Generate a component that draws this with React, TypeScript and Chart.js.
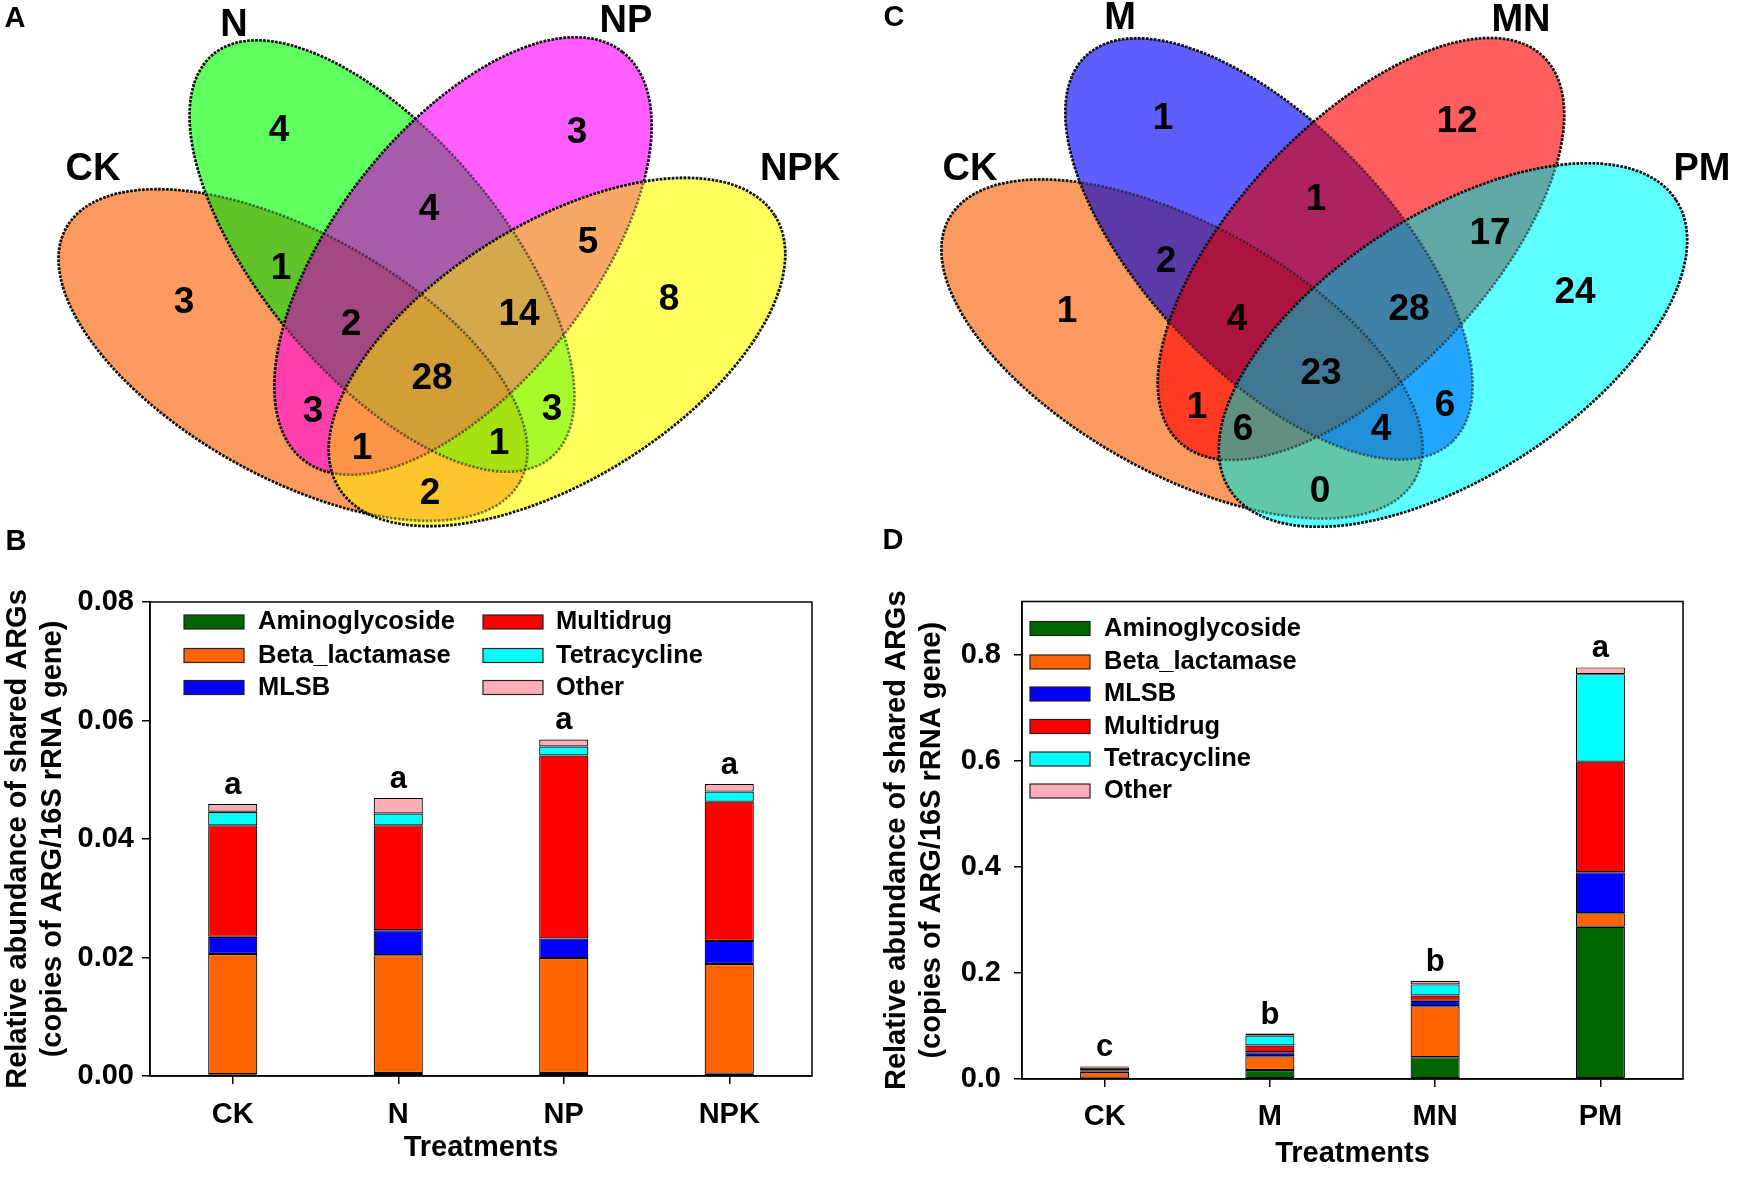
import React, { useEffect, useRef } from 'react';
import { Chart, registerables } from 'chart.js';

Chart.register(...registerables);

const FONT = '"Liberation Sans", Arial, Helvetica, sans-serif';

// ---------------- Venn data ----------------
// region structure: indices of the sets that share the region
const vennRegionSets: number[][] = [
  [0], [1], [2], [3],
  [0, 1], [1, 2], [2, 3], [0, 3], [0, 2], [1, 3],
  [0, 1, 2], [1, 2, 3], [0, 1, 3], [0, 2, 3],
  [0, 1, 2, 3],
];
const vennASets = ['CK', 'N', 'NP', 'NPK'];
const vennACounts = [3, 4, 3, 8, 1, 4, 5, 2, 3, 3, 2, 14, 1, 1, 28];
const vennCSets = ['CK', 'M', 'MN', 'PM'];
const vennCCounts = [1, 1, 12, 24, 2, 1, 17, 0, 1, 6, 4, 28, 4, 6, 23];

// ---------------- Bar data ----------------
const argClasses = ['Aminoglycoside', 'Beta_lactamase', 'MLSB', 'Multidrug', 'Tetracycline', 'Other'];

const categoriesB = ['CK', 'N', 'NP', 'NPK'];
const aminoB = [0.0003, 0.0005, 0.0005, 0.0004];
const betaB = [0.0203, 0.0199, 0.0194, 0.0185];
const mlsbB = [0.0029, 0.0042, 0.0033, 0.0039];
const multiB = [0.0188, 0.0177, 0.0309, 0.0235];
const tetraB = [0.0023, 0.0020, 0.0015, 0.0017];
const otherB = [0.0013, 0.0026, 0.0012, 0.0013];
const lettersB = ['a', 'a', 'a', 'a'];
const yTicksB = [0, 0.02, 0.04, 0.06, 0.08];

const categoriesD = ['CK', 'M', 'MN', 'PM'];
const aminoD = [0.001, 0.017, 0.041, 0.287];
const betaD = [0.0125, 0.026, 0.096, 0.0255];
const mlsbD = [0.003, 0.0075, 0.0105, 0.0772];
const multiD = [0.005, 0.0127, 0.0098, 0.2084];
const tetraD = [0.0015, 0.0188, 0.021, 0.165];
const otherD = [0.0012, 0.0037, 0.0067, 0.0127];
const lettersD = ['c', 'b', 'b', 'a'];
const yTicksD = [0, 0.2, 0.4, 0.6, 0.8];

const yTitleLines = ['Relative abundance of shared ARGs', '(copies of ARG/16S rRNA gene)'];
const xTitle = 'Treatments';

// ---------------- styles / layout ----------------
const classColors = ['#006400', '#FF6400', '#0000FF', '#FF0000', '#00FFFF', '#FFADB9'];

const VENN_W = 1744;
const VENN_H = 560;

const VENN_A = {
  panel: 'A',
  panelPos: [15, 19],
  setColors: ['#FA9A5E', '#5EFF5E', '#FF5EFF', '#FFFF5E'],
  regionColors: [
    '#FA9A5E', '#5EFF5E', '#FF5EFF', '#FFFF5E',
    '#5EC42A', '#A65CA8', '#F9A864', '#FDC62C', '#FF40AC', '#A8FA2C',
    '#A44882', '#D4A84C', '#A6E212', '#FC9448',
    '#D29E36',
  ],
  ellipses: [
    { cx: 293, cy: 355, rx: 260, ry: 122, rot: 29.3 },
    { cx: 382, cy: 256, rx: 263, ry: 120, rot: 50 },
    { cx: 463, cy: 256, rx: 259, ry: 128, rot: -52 },
    { cx: 557, cy: 352, rx: 257, ry: 128, rot: -32 },
  ],
  setLabelPos: [[93, 170], [234, 26], [626, 22], [800, 170]],
  regionPos: [
    [184, 303], [279, 131], [577, 133], [669, 300],
    [281, 269], [429, 210], [588, 243], [430, 494], [313, 412], [552, 410],
    [351, 325], [519, 315], [499, 444], [362, 449],
    [432, 379],
  ],
};

const VENN_C = {
  panel: 'C',
  panelPos: [894, 18],
  setColors: ['#FA9A5E', '#5E5EFF', '#FF5E5E', '#5EFFFF'],
  regionColors: [
    '#FA9A5E', '#5E5EFF', '#FF5E5E', '#5EFFFF',
    '#5B3AA8', '#AE2260', '#60A8A8', '#60C8A8', '#FF3C22', '#22A6FF',
    '#AC1440', '#3E82A8', '#2290D8', '#609080',
    '#407894',
  ],
  ellipses: [
    { cx: 1182, cy: 349, rx: 267, ry: 124, rot: 29.3 },
    { cx: 1269, cy: 249, rx: 266, ry: 123, rot: 46.5 },
    { cx: 1361, cy: 249, rx: 265, ry: 125, rot: -46.7 },
    { cx: 1453, cy: 345, rx: 266, ry: 131, rot: -33 },
  ],
  setLabelPos: [[970, 170], [1120, 19], [1521, 21], [1702, 170]],
  regionPos: [
    [1067, 312], [1163, 119], [1457, 122], [1575, 293],
    [1166, 262], [1316, 200], [1490, 234], [1320, 492], [1197, 408], [1445, 406],
    [1237, 320], [1409, 310], [1381, 430], [1243, 430],
    [1321, 374],
  ],
};

const EXTRA_PANEL_LETTERS: [string, number, number][] = [['B', 16, 542], ['D', 893, 541]];

// ---------------- Venn chart ----------------
function makeVennPlugin(panels: any[], sets: string[][], counts: number[][]) {
  return {
    id: 'vennDraw',
    beforeDatasetsDraw(chart: any) {
      const { ctx, scales } = chart;
      const W = chart.width;
      const H = chart.height;
      const sx = (v: number) => scales.x.getPixelForValue(v);
      const sy = (v: number) => scales.y.getPixelForValue(v);
      const kx = sx(1) - sx(0);
      const ky = Math.abs(sy(1) - sy(0));
      panels.forEach((p) => {
        const inside = p.ellipses.map((e: any) => {
          const path = new Path2D();
          path.ellipse(sx(e.cx), sy(e.cy), e.rx * kx, e.ry * ky, (e.rot * Math.PI) / 180, 0, Math.PI * 2);
          return path;
        });
        const outside = p.ellipses.map((e: any) => {
          const path = new Path2D();
          path.rect(-5, -5, W + 10, H + 10);
          path.ellipse(sx(e.cx), sy(e.cy), e.rx * kx, e.ry * ky, (e.rot * Math.PI) / 180, 0, Math.PI * 2);
          return path;
        });
        // base fills (avoid seams)
        ctx.save();
        inside.forEach((path: Path2D, i: number) => {
          ctx.fillStyle = p.setColors[i];
          ctx.fill(path);
        });
        ctx.restore();
        // each region painted on its own
        vennRegionSets.forEach((S, r) => {
          ctx.save();
          for (let i = 0; i < inside.length; i++) {
            if (S.includes(i)) ctx.clip(inside[i]);
            else ctx.clip(outside[i], 'evenodd');
          }
          ctx.fillStyle = p.regionColors[r];
          ctx.fillRect(-5, -5, W + 10, H + 10);
          ctx.restore();
        });
        // dotted outlines: softer where covered by later sets
        inside.forEach((path: Path2D, i: number) => {
          ctx.save();
          ctx.setLineDash([2.5, 1.5]);
          ctx.lineWidth = 2.6;
          ctx.strokeStyle = 'rgba(20,20,20,0.55)';
          ctx.stroke(path);
          ctx.restore();
          ctx.save();
          for (let j = i + 1; j < inside.length; j++) ctx.clip(outside[j], 'evenodd');
          ctx.setLineDash([2.5, 1.5]);
          ctx.lineWidth = 2.6;
          ctx.strokeStyle = '#111';
          ctx.stroke(path);
          ctx.restore();
        });
      });
    },
    afterDatasetsDraw(chart: any) {
      const { ctx, scales } = chart;
      const sx = (v: number) => scales.x.getPixelForValue(v);
      const sy = (v: number) => scales.y.getPixelForValue(v);
      ctx.save();
      ctx.fillStyle = '#000';
      ctx.textAlign = 'center';
      ctx.textBaseline = 'middle';
      panels.forEach((p, pi) => {
        const meta = chart.getDatasetMeta(pi);
        ctx.font = `bold 37px ${FONT}`;
        meta.data.forEach((pt: any, j: number) => {
          ctx.fillText(String(counts[pi][j]), pt.x, pt.y);
        });
        ctx.font = `bold 38px ${FONT}`;
        p.setLabelPos.forEach((pos: number[], k: number) => {
          ctx.fillText(sets[pi][k], sx(pos[0]), sy(pos[1]));
        });
        ctx.font = `bold 29px ${FONT}`;
        ctx.fillText(p.panel, sx(p.panelPos[0]), sy(p.panelPos[1]));
      });
      ctx.font = `bold 29px ${FONT}`;
      EXTRA_PANEL_LETTERS.forEach(([t, x, y]) => ctx.fillText(t, sx(x), sy(y)));
      ctx.restore();
    },
  };
}

function vennConfig(): any {
  const panels = [VENN_A, VENN_C];
  const counts = [vennACounts, vennCCounts];
  const sets = [vennASets, vennCSets];
  return {
    type: 'scatter',
    data: {
      datasets: panels.map((p, i) => ({
        label: p.panel,
        data: p.regionPos.map((pos, j) => ({ x: pos[0], y: pos[1], n: counts[i][j] })),
        pointRadius: 0,
        pointHoverRadius: 0,
        showLine: false,
      })),
    },
    options: {
      responsive: false,
      animation: false,
      events: [],
      layout: { padding: 0 },
      plugins: { legend: { display: false }, tooltip: { enabled: false } },
      scales: {
        x: { type: 'linear', min: 0, max: VENN_W, display: false },
        y: { type: 'linear', min: 0, max: VENN_H, reverse: true, display: false },
      },
    },
    plugins: [makeVennPlugin(panels, sets, counts)],
  };
}

// ---------------- Bar charts ----------------
function makeBarExtras(p: any) {
  return {
    id: 'barExtras',
    afterDraw(chart: any) {
      const { ctx, chartArea: ca, scales } = chart;
      ctx.save();
      ctx.strokeStyle = '#000';
      ctx.lineWidth = 1.5;
      ctx.strokeRect(ca.left, ca.top, ca.right - ca.left, ca.bottom - ca.top);
      ctx.fillStyle = '#000';
      ctx.font = `bold 31px ${FONT}`;
      ctx.textAlign = 'center';
      ctx.textBaseline = 'alphabetic';
      const n = chart.data.labels.length;
      for (let i = 0; i < n; i++) {
        let total = 0;
        chart.data.datasets.forEach((d: any) => { total += d.data[i]; });
        ctx.fillText(p.letters[i], scales.x.getPixelForValue(i), scales.y.getPixelForValue(total) - 10);
      }
      const L = p.legend;
      ctx.font = `bold ${L.fontSize}px ${FONT}`;
      ctx.textAlign = 'left';
      ctx.textBaseline = 'middle';
      chart.data.datasets.forEach((d: any, k: number) => {
        const col = Math.floor(k / L.rows);
        const row = k % L.rows;
        const bx = L.boxX[col];
        const tx = L.textX[col];
        const y = L.rowY[row];
        ctx.fillStyle = d.backgroundColor;
        ctx.fillRect(bx, y - L.boxH / 2, L.boxW, L.boxH);
        ctx.strokeStyle = '#222';
        ctx.lineWidth = 1.2;
        ctx.strokeRect(bx, y - L.boxH / 2, L.boxW, L.boxH);
        ctx.fillStyle = '#000';
        ctx.fillText(d.label, tx, y);
      });
      ctx.restore();
    },
  };
}

function barConfig(p: any): any {
  const datasets = argClasses.map((label, k) => ({
    label,
    data: p.series[k],
    backgroundColor: classColors[k],
    borderColor: '#000',
    borderWidth: 1.2,
    borderSkipped: false,
    barPercentage: 0.297,
    categoryPercentage: 1,
  }));
  const tickFont = { family: FONT, size: 29, weight: 'bold' };
  const titleFont = { family: FONT, size: 29, weight: 'bold', lineHeight: '35px' };
  const gridOpts = {
    display: true,
    drawOnChartArea: false,
    drawTicks: true,
    tickLength: 8,
    offset: false,
    color: '#000',
    lineWidth: 1.5,
  };
  return {
    type: 'bar',
    data: { labels: p.categories, datasets },
    options: {
      responsive: false,
      maintainAspectRatio: false,
      animation: false,
      events: [],
      layout: { padding: { left: 0, top: p.frame.t, right: p.width - p.frame.r, bottom: 0 } },
      plugins: { legend: { display: false }, tooltip: { enabled: false } },
      scales: {
        x: {
          stacked: true,
          offset: true,
          grid: gridOpts,
          border: { display: true, color: '#000', width: 1.5 },
          ticks: { color: '#000', padding: p.xTickPad, font: tickFont, maxRotation: 0 },
          title: { display: true, text: xTitle, color: '#000', font: titleFont, padding: { top: 0, bottom: p.xTitlePad } },
          afterFit: (s: any) => { s.height = p.height - p.frame.b; },
        },
        y: {
          stacked: true,
          min: 0,
          max: p.yMax,
          afterBuildTicks: (s: any) => { s.ticks = p.yTicks.map((v: number) => ({ value: v })); },
          grid: gridOpts,
          border: { display: true, color: '#000', width: 1.5 },
          ticks: {
            color: '#000',
            padding: p.yTickPad,
            font: tickFont,
            callback: (v: any) => Number(v).toFixed(p.decimals),
          },
          title: { display: true, text: yTitleLines, color: '#000', font: titleFont, padding: { top: p.yTitlePad, bottom: 0 } },
          afterFit: (s: any) => { s.width = p.frame.l; },
        },
      },
    },
    plugins: [makeBarExtras(p)],
  };
}

const PANEL_W = 872;
const PANEL_H = 617;

const barB = {
  width: PANEL_W,
  height: PANEL_H,
  categories: categoriesB,
  series: [aminoB, betaB, mlsbB, multiB, tetraB, otherB],
  letters: lettersB,
  yMax: 0.08,
  yTicks: yTicksB,
  decimals: 2,
  frame: { l: 150, r: 812, t: 42, b: 516 },
  xTickPad: 14,
  yTickPad: 8,
  xTitlePad: 12,
  yTitlePad: 0,
  legend: {
    rows: 3,
    boxX: [184, 483],
    textX: [258, 556],
    rowY: [62, 95.5, 127.5],
    boxW: 60,
    boxH: 14,
    fontSize: 25.5,
  },
};

const barD = {
  width: PANEL_W,
  height: PANEL_H,
  categories: categoriesD,
  series: [aminoD, betaD, mlsbD, multiD, tetraD, otherD],
  letters: lettersD,
  yMax: 0.9,
  yTicks: yTicksD,
  decimals: 1,
  frame: { l: 150, r: 811, t: 41.5, b: 519 },
  xTickPad: 13,
  yTickPad: 13,
  xTitlePad: 6,
  yTitlePad: 7.5,
  legend: {
    rows: 6,
    boxX: [158],
    textX: [232],
    rowY: [68.5, 102, 134, 166.5, 199, 231],
    boxW: 60,
    boxH: 14,
    fontSize: 25.5,
  },
};

function ChartCanvas({ makeConfig, left, top, width, height }: any) {
  const ref = useRef<HTMLCanvasElement>(null);
  useEffect(() => {
    if (!ref.current) return;
    const chart = new Chart(ref.current, makeConfig());
    return () => chart.destroy();
  }, []);
  return (
    <canvas
      ref={ref}
      width={width}
      height={height}
      style={{ position: 'absolute', left, top, width, height, display: 'block' }}
    />
  );
}

export default function App() {
  return (
    <div
      style={{
        position: 'absolute',
        left: 0,
        top: 0,
        width: 1744,
        height: 1177,
        background: '#fff',
        overflow: 'hidden',
      }}
    >
      <ChartCanvas makeConfig={vennConfig} left={0} top={0} width={VENN_W} height={VENN_H} />
      <ChartCanvas makeConfig={() => barConfig(barB)} left={0} top={560} width={PANEL_W} height={PANEL_H} />
      <ChartCanvas makeConfig={() => barConfig(barD)} left={872} top={560} width={PANEL_W} height={PANEL_H} />
    </div>
  );
}
